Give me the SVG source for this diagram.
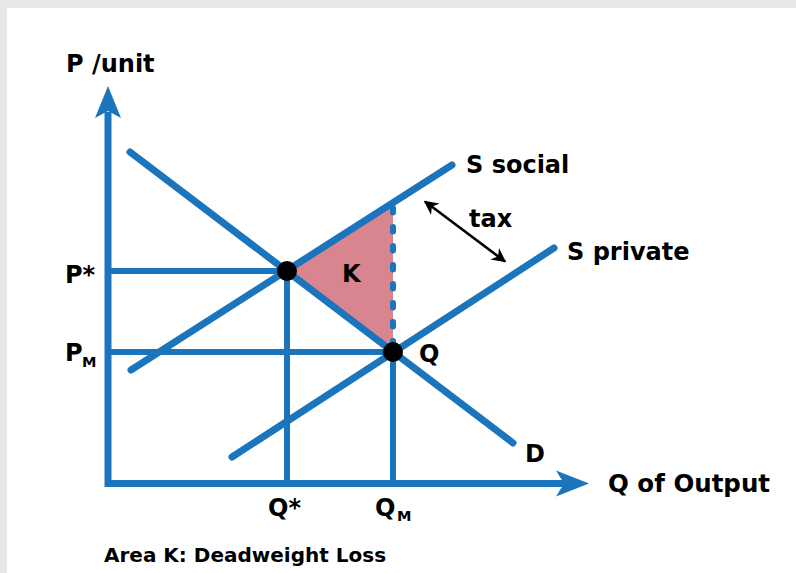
<svg xmlns="http://www.w3.org/2000/svg" width="796" height="573" viewBox="0 0 796 573">
<defs>
<style>
.ln{stroke:#1A75BC;stroke-width:7;fill:none;stroke-linecap:round}
.gd{stroke:#1A75BC;stroke-width:6;fill:none}
.ax{stroke:#1A75BC;stroke-width:7;fill:none;stroke-linejoin:miter}
.lb{font-family:"DejaVu Sans",Verdana,sans-serif;font-weight:bold;font-size:24px;fill:#000}
.sub{font-family:"DejaVu Sans",Verdana,sans-serif;font-weight:bold;font-size:14.5px;fill:#000}
.dot{fill:#000}
</style>
<marker id="ah" viewBox="0 0 10 10" refX="9" refY="5" markerWidth="5.5" markerHeight="5.5" orient="auto-start-reverse" markerUnits="strokeWidth">
<path d="M0,0 L10,5 L0,10 L3,5 Z" fill="#000"/>
</marker>
</defs>
<rect x="0" y="0" width="796" height="573" fill="#E8E8E8"/>
<rect x="7" y="8" width="789" height="565" fill="#FFFFFF"/>

<g id="area-k">
<polygon points="287,271 393,202.7 393,352" fill="#D9858F"/>
</g>

<g id="connectors">
<polyline class="ax" points="108,112 108,483.5 565,483.5"/>
<path d="M108,86 L121,118 L108,111 L95,118 Z" fill="#1A75BC"/>
<path d="M589,483.5 L556,470.5 L564,483.5 L556,496.5 Z" fill="#1A75BC"/>
<line class="gd" x1="108" y1="271" x2="287" y2="271"/>
<line class="gd" x1="108" y1="352" x2="393" y2="352"/>
<line class="gd" x1="287" y1="271" x2="287" y2="484"/>
<line class="gd" x1="393" y1="352" x2="393" y2="484"/>
<line x1="393" y1="208" x2="393" y2="346" stroke="#1A75BC" stroke-width="6" stroke-linecap="round" stroke-dasharray="4.5 14.5"/>
<line id="demand" class="ln" x1="130" y1="152" x2="513" y2="443"/>
<line id="s-social" class="ln" x1="131" y1="370" x2="452" y2="165"/>
<line id="s-private" class="ln" x1="232" y1="457" x2="554" y2="248"/>
<line id="tax-arrow" x1="425" y1="201.5" x2="505" y2="261.5" stroke="#000" stroke-width="2.6" marker-start="url(#ah)" marker-end="url(#ah)"/>
</g>

<g id="point-pstar"><circle class="dot" cx="287" cy="271" r="10"/></g>
<g id="point-q"><circle class="dot" cx="393" cy="352" r="10"/></g>

<g id="labels">
<text class="lb" x="66" y="72">P /unit</text>
<text class="lb" x="466" y="173">S social</text>
<text class="lb" x="469" y="227">tax</text>
<text class="lb" x="567" y="260">S private</text>
<text class="lb" x="65" y="283">P*</text>
<text class="lb" x="65" y="361">P</text><text class="sub" x="82" y="367">M</text>
<text class="lb" x="342" y="282">K</text>
<text class="lb" x="419" y="362">Q</text>
<text class="lb" x="525" y="462">D</text>
<text class="lb" style="font-size:24.5px" x="608" y="492">Q of Output</text>
<text class="lb" x="268" y="516">Q*</text>
<text class="lb" x="375" y="516">Q</text><text class="sub" x="397" y="521">M</text>
<text class="lb" style="font-size:20px" x="104" y="562">Area K: Deadweight Loss</text>
</g>
</svg>
